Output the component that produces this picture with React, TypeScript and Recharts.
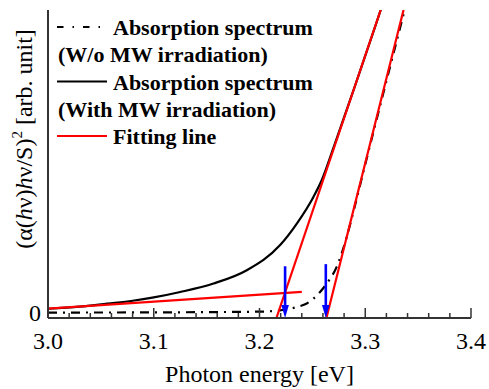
import React from 'react';
import { LineChart, Line, XAxis, YAxis, ReferenceLine, Legend, Label } from 'recharts';

const X_TICKS = [3.0, 3.02, 3.04, 3.06, 3.08, 3.1, 3.12, 3.14, 3.16, 3.18, 3.2, 3.22, 3.24, 3.26, 3.28, 3.3, 3.32, 3.34, 3.36, 3.38, 3.4];
const Y_TICKS = [0];

const WITHOUT_MW = [
  { x: 3.0, y: 0 },
  { x: 3.1, y: 0.05 },
  { x: 3.15, y: 0.15 },
  { x: 3.2, y: 0.3 },
  { x: 3.216, y: 0.6 },
  { x: 3.2353, y: 1.85 },
  { x: 3.2447, y: 3.0 },
  { x: 3.2573, y: 6.8 },
  { x: 3.2636, y: 9.6 },
  { x: 3.273, y: 15.1 },
  { x: 3.2825, y: 25.0 },
  { x: 3.29, y: 35.0 },
  { x: 3.3, y: 49.0 },
  { x: 3.32, y: 76.5 },
  { x: 3.338, y: 101 },
];

const WITH_MW = [
  { x: 3.0, y: 1.25 },
  { x: 3.03, y: 1.95 },
  { x: 3.056, y: 2.95 },
  { x: 3.08, y: 3.9 },
  { x: 3.1, y: 5.0 },
  { x: 3.125, y: 6.8 },
  { x: 3.1565, y: 9.6 },
  { x: 3.188, y: 14.0 },
  { x: 3.2195, y: 22.3 },
  { x: 3.2353, y: 29.4 },
  { x: 3.251, y: 38.2 },
  { x: 3.2589, y: 43.8 },
  { x: 3.27, y: 54.5 },
  { x: 3.29, y: 74.6 },
  { x: 3.31, y: 95.2 },
  { x: 3.316, y: 101.5 },
];

const FIT_BASE = [
  { x: 3.0, y: 1.3 },
  { x: 3.24, y: 6.85 },
];
const FIT_WITH = [
  { x: 3.216, y: -1.8 },
  { x: 3.3146, y: 100 },
];
const FIT_WITHOUT = [
  { x: 3.2633, y: -1.8 },
  { x: 3.3362, y: 100 },
];

const ARROW_WITH = [{ x: 3.2242, y: 15.3 }, { x: 3.2242, y: -1.8 }];
const ARROW_WITHOUT = [{ x: 3.2627, y: 16.0 }, { x: 3.2627, y: -1.8 }];

const LEGEND_ITEMS = [
  { lines: ['Absorption spectrum', '(W/o MW irradiation)'], color: '#000000', dash: '6.5 9 1.5 9' },
  { lines: ['Absorption spectrum', '(With MW irradiation)'], color: '#000000', dash: undefined },
  { lines: ['Fitting line'], color: '#ff0000', dash: undefined },
];

const FONT = 'Liberation Serif, Times New Roman, Times, serif';
const RED = '#ff0000';
const BLUE = '#0000ff';

const isMajor = (v: number) => Math.abs(v * 10 - Math.round(v * 10)) < 1e-6;

const XTick = (props: any) => {
  const { x, y, payload } = props;
  const v = payload.value as number;
  const major = isMajor(v);
  return (
    <g>
      <line x1={x} y1={y} x2={x} y2={y - (major ? 10 : 5)} stroke="#333" strokeWidth={1.5} />
      {major && (
        <text x={x} y={y + 31} textAnchor="middle" style={{ fontFamily: FONT }} fontSize={24} fill="#000">
          {v.toFixed(1)}
        </text>
      )}
    </g>
  );
};

const ArrowShape = (props: any) => {
  const { x1, y1, x2, y2 } = props;
  const head = 13;
  const half = 3.8;
  return (
    <g>
      <line x1={x1} y1={y1} x2={x2} y2={y2 - head + 1} stroke={BLUE} strokeWidth={2.6} />
      <polygon points={`${x2 - half},${y2 - head} ${x2 + half},${y2 - head} ${x2},${y2}`} fill={BLUE} />
    </g>
  );
};

const LegendContent = () => (
  <svg width={489} height={160} style={{ display: 'block' }}>
    {LEGEND_ITEMS.map((item, i) => {
      const sy = 27 + i * 54.5;
      return (
        <g key={i}>
          <line x1={57} y1={sy} x2={item.dash ? 103 : 107} y2={sy} stroke={item.color} strokeWidth={2.2} strokeDasharray={item.dash} />
          {item.lines.map((t, j) => (
            <text key={j} x={j === 0 ? 113 : 58} y={sy + 8 + j * 27} style={{ fontFamily: FONT }} fontWeight="bold" fontSize={22} fill="#000">
              {t}
            </text>
          ))}
        </g>
      );
    })}
  </svg>
);

const YLabel = (props: any) => {
  const vb = props.viewBox || { x: 8, y: 10, width: 40, height: 308 };
  const cx = vb.x + 24;
  const cy = vb.y + vb.height / 2 - 25;
  return (
    <text x={cx} y={cy} transform={`rotate(-90, ${cx}, ${cy})`} textAnchor="middle" style={{ fontFamily: FONT }} fontSize={24} fill="#000">
      <tspan>(α(</tspan>
      <tspan fontStyle="italic">h</tspan>
      <tspan>ν)</tspan>
      <tspan fontStyle="italic">h</tspan>
      <tspan>ν/S)</tspan>
      <tspan fontSize={15} dy={-10}>2</tspan>
      <tspan dy={10}> [arb. unit]</tspan>
    </text>
  );
};

const XLabel = (props: any) => {
  const vb = props.viewBox || { x: 48, y: 318, width: 423, height: 71 };
  return (
    <text x={vb.x + vb.width / 2} y={vb.y + 64} textAnchor="middle" style={{ fontFamily: FONT }} fontSize={24} fill="#000">
      Photon energy [eV]
    </text>
  );
};

export default function App() {
  return (
    <div style={{ position: 'absolute', left: 0, top: 0, width: 489, height: 389, background: '#fff' }}>
      <LineChart width={489} height={389} margin={{ top: 10, right: 18, bottom: 0, left: 8 }}>
        <XAxis
          xAxisId={0}
          dataKey="x"
          type="number"
          domain={[3.0, 3.4]}
          allowDataOverflow
          ticks={X_TICKS}
          interval={0}
          tickSize={0}
          tickMargin={0}
          tickLine={false}
          tick={<XTick />}
          height={71}
          axisLine={{ stroke: '#333', strokeWidth: 2 }}
        >
          <Label content={<XLabel />} />
        </XAxis>
        <XAxis
          xAxisId="top"
          orientation="top"
          type="number"
          domain={[3.0, 3.4]}
          height={0}
          tick={false}
          tickLine={false}
          axisLine={{ stroke: '#666', strokeWidth: 2 }}
        />
        <YAxis
          yAxisId={0}
          type="number"
          domain={[-1.8, 100]}
          allowDataOverflow
          ticks={Y_TICKS}
          width={40}
          tickSize={0}
          tickMargin={7}
          tickLine={false}
          tick={{ fontFamily: FONT, fontSize: 24, fill: '#000' }}
          axisLine={{ stroke: '#333', strokeWidth: 2 }}
        >
          <Label content={<YLabel />} />
        </YAxis>
        <YAxis
          yAxisId="right"
          orientation="right"
          type="number"
          domain={[0, 1]}
          width={0}
          tick={false}
          tickLine={false}
          axisLine={{ stroke: '#666', strokeWidth: 2 }}
        />
        <Legend
          layout="horizontal"
          verticalAlign="middle"
          align="center"
          content={<LegendContent />}
          wrapperStyle={{ position: 'absolute', left: 0, top: 0, width: 489, height: 160, pointerEvents: 'none' }}
        />
        <Line data={WITHOUT_MW} dataKey="y" type="monotone" stroke="#000" strokeWidth={2.2} strokeDasharray="9 6 2 6" dot={false} isAnimationActive={false} legendType="none" />
        <Line data={WITH_MW} dataKey="y" type="monotone" stroke="#000" strokeWidth={2.2} dot={false} isAnimationActive={false} legendType="none" />
        <Line data={FIT_BASE} dataKey="y" type="linear" stroke={RED} strokeWidth={2.2} dot={false} isAnimationActive={false} legendType="none" />
        <Line data={FIT_WITH} dataKey="y" type="linear" stroke={RED} strokeWidth={2.2} dot={false} isAnimationActive={false} legendType="none" />
        <Line data={FIT_WITHOUT} dataKey="y" type="linear" stroke={RED} strokeWidth={2.2} dot={false} isAnimationActive={false} legendType="none" />
        <ReferenceLine segment={ARROW_WITH} shape={<ArrowShape />} ifOverflow="visible" />
        <ReferenceLine segment={ARROW_WITHOUT} shape={<ArrowShape />} ifOverflow="visible" />
      </LineChart>
    </div>
  );
}
